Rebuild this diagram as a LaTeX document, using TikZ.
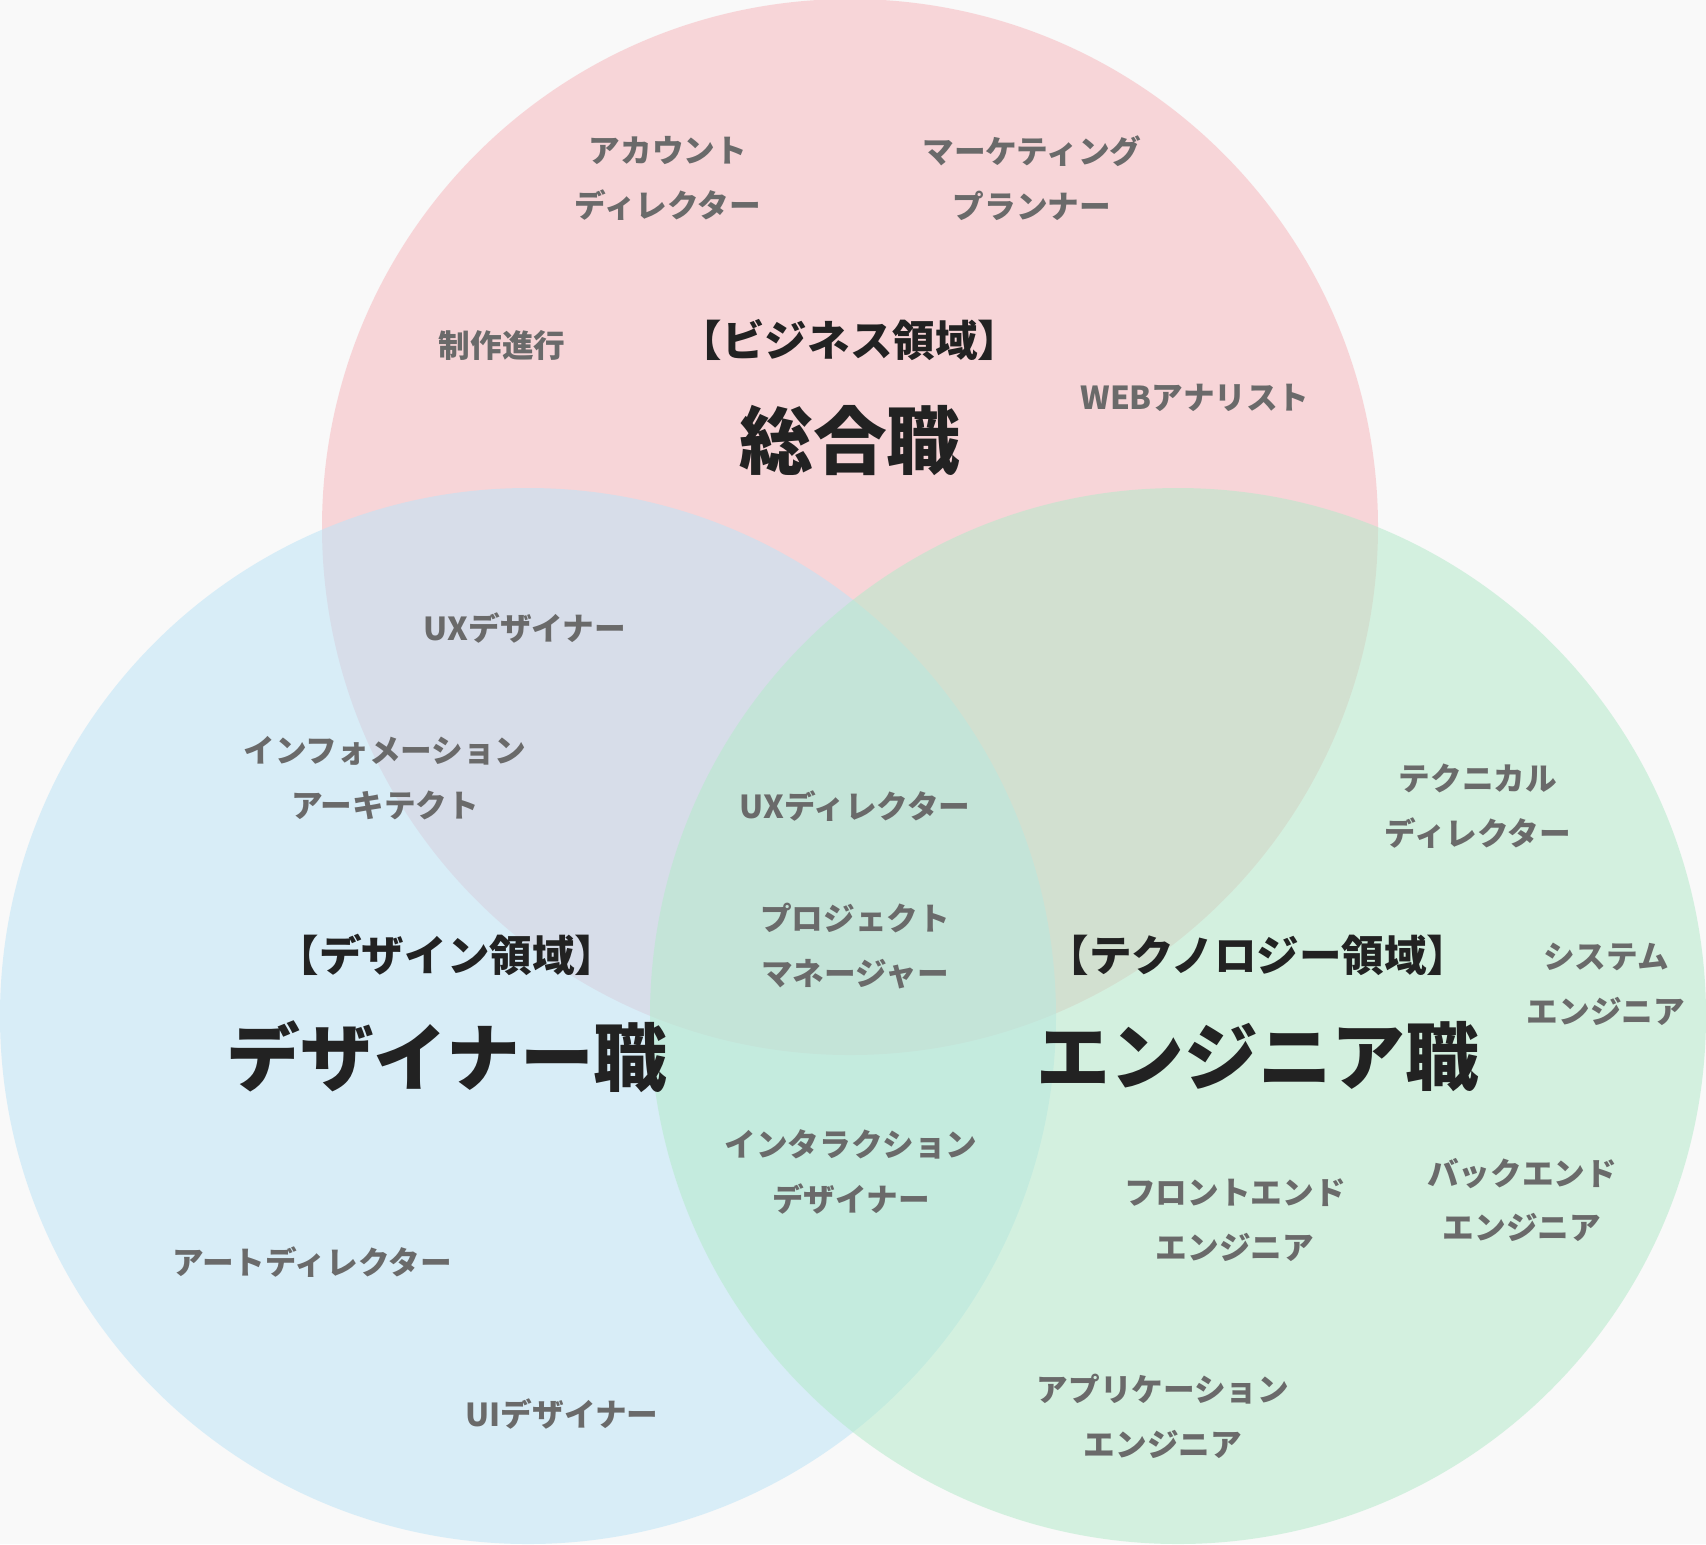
\documentclass[tikz,border=0pt]{standalone}
\usepackage{fontspec}
\setmainfont{Noto Sans CJK JP}
\definecolor{bg}{HTML}{F9F9F9}
\definecolor{cred}{HTML}{F7B9BE}
\definecolor{cblue}{HTML}{BDE4F7}
\definecolor{cgreen}{HTML}{B5EACB}
\definecolor{lab}{HTML}{6A6A6A}
\definecolor{ttl}{HTML}{222222}
\tikzset{
 lbl/.style={text=lab,font=\bfseries\fontsize{9}{15.6}\selectfont,align=center},
 hdr/.style={text=ttl,font=\bfseries\fontsize{12.1}{15}\selectfont},
 big/.style={text=ttl,font=\bfseries\fontsize{21}{24}\selectfont},
 circ/.style={fill opacity=0.55,draw=none}
}
\begin{document}
\begin{tikzpicture}[x=0.01cm,y=-0.01cm]
\fill[bg] (0,0) rectangle (1706,1544);
\useasboundingbox (0,0) rectangle (1706,1544);
\fill[cred,circ] (850,527) circle (528);
\fill[cblue,circ] (528,1016) circle (528);
\fill[cgreen,circ] (1178,1016) circle (528);
\node[lbl] (a1) at (668,178) {アカウント\\ディレクター};
\node[lbl] (a2) at (1032,178) {マーケティング\\プランナー};
\node[lbl] (a3) at (502,345) {制作進行};
\node[hdr] (h1) at (850,340) {【ビジネス領域】};
\node[big] (b1) at (850,440) {総合職};
\node[lbl] (a4) at (1195,398) {WEBアナリスト};
\node[lbl] (a5) at (525,628) {UXデザイナー};
\node[lbl] (a6) at (385,778) {インフォメーション\\アーキテクト};
\node[lbl] (a7) at (855,806) {UXディレクター};
\node[lbl] (a8) at (855,946) {プロジェクト\\マネージャー};
\node[hdr] (h2) at (447,955) {【デザイン領域】};
\node[big] (b2) at (447,1057) {デザイナー職};
\node[hdr] (h3) at (1258,955) {【テクノロジー領域】};
\node[big] (b3) at (1258,1057) {エンジニア職};
\node[lbl] (a9) at (1478,806) {テクニカル\\ディレクター};
\node[lbl] (a10) at (1606,984) {システム\\エンジニア};
\node[lbl] (a11) at (851,1172) {インタラクション\\デザイナー};
\node[lbl] (a12) at (1235,1220) {フロントエンド\\エンジニア};
\node[lbl] (a13) at (1522,1200) {バックエンド\\エンジニア};
\node[lbl] (a14) at (312,1262) {アートディレクター};
\node[lbl] (a15) at (562,1414) {UIデザイナー};
\node[lbl] (a16) at (1163,1416) {アプリケーション\\エンジニア};
\end{tikzpicture}
\end{document}
